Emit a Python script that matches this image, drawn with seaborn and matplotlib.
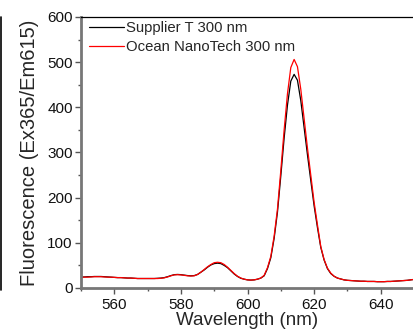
import numpy as np
import pandas as pd
import seaborn as sns
import matplotlib.pyplot as plt
from matplotlib.lines import Line2D

# wavelength grid, 1 nm steps
wavelength = list(range(550, 651))

ocean = [
    24, 24, 24, 24.5, 25, 25, 25, 24.5, 24, 24,            # 550-559
    23.5, 23, 23, 22.5, 22, 22, 21.5, 21, 21, 21,          # 560-569
    21, 21, 21, 21, 21.5, 22.5, 24.5, 27, 29, 29.5,        # 570-579
    29, 28, 27, 26.5, 27, 30, 35, 41, 47, 52,              # 580-589
    56, 57, 56, 52, 46, 39, 32, 26, 22, 19.5,              # 590-599
    18, 17.5, 18, 19.5, 22, 28, 45, 70, 115, 175,          # 600-609
    260, 350, 430, 488, 506, 490, 440, 375, 310, 250,      # 610-619
    190, 140, 92, 63, 44, 33, 26, 22, 20, 18,              # 620-629
    17, 16.5, 16, 15.5, 15, 15, 14.5, 14.5, 14.5, 14,      # 630-639
    14, 14, 14.5, 14.5, 15, 15.5, 16, 16.5, 17, 18,        # 640-649
    19,                                                    # 650
]

supplier = [
    24, 24.5, 25, 25, 25.5, 25.5, 25.5, 25, 24.5, 24,      # 550-559
    23.5, 23, 23, 22.5, 22, 22, 21.5, 21, 21, 21,          # 560-569
    21, 21, 21, 21.5, 22, 23, 25, 27.5, 29.5, 30,          # 570-579
    29.5, 28.5, 27.5, 27, 27.5, 30, 35, 40, 46, 51,        # 580-589
    54, 55, 54, 50, 45, 38, 31, 25.5, 21.5, 19.5,          # 590-599
    18, 17.5, 18, 19.5, 22, 27, 43, 67, 110, 168,          # 600-609
    248, 332, 405, 458, 473, 460, 415, 355, 295, 238,      # 610-619
    182, 134, 90, 62, 43, 32, 26, 22, 20, 18,              # 620-629
    17, 16.5, 16, 15.5, 15, 15, 14.5, 14.5, 14.5, 14,      # 630-639
    14, 14, 14.5, 14.5, 15, 15.5, 16, 16.5, 17, 18,        # 640-649
    19,                                                    # 650
]

series_names = ["Supplier T 300 nm", "Ocean NanoTech 300 nm"]
series_colors = ["black", "red"]

df = pd.concat([
    pd.DataFrame({"Wavelength": wavelength, "Fluorescence": supplier, "Sample": series_names[0]}),
    pd.DataFrame({"Wavelength": wavelength, "Fluorescence": ocean, "Sample": series_names[1]}),
])

sns.set_theme(style="ticks")
plt.rcParams['font.family'] = ['Liberation Sans', 'DejaVu Sans']

fig = plt.figure(figsize=(4.14, 3.35), dpi=100)
ax = fig.add_axes([0.1957, 0.1403, 0.8043, 0.809])

sns.lineplot(data=df, x="Wavelength", y="Fluorescence", hue="Sample",
             hue_order=series_names, palette=series_colors,
             linewidth=0.9, ax=ax, estimator=None, sort=False)

ax.set_xlim(550, 650)
ax.set_ylim(0, 600)
ax.set_xticks([560, 580, 600, 620, 640])
ax.set_xticks(np.arange(550, 651, 10), minor=True)
ax.set_yticks(np.arange(0, 601, 100))
ax.set_yticks(np.arange(0, 601, 50), minor=True)

ax.set_xlabel("Wavelength (nm)", fontsize=13.5, labelpad=0)
ax.set_ylabel("Fluorescence (Ex365/Em615)", fontsize=14.5, labelpad=6)
ax.tick_params(axis='both', which='major', direction='out', length=4, width=1,
               color='#555555', labelsize=11, pad=2, labelcolor='#111111')
ax.tick_params(axis='x', which='major', pad=3.5)
ax.tick_params(axis='both', which='minor', direction='out', length=2.5, width=1,
               color='#555555')

for side in ['left', 'bottom']:
    ax.spines[side].set_color('#777777')
    ax.spines[side].set_linewidth(2)
ax.spines['top'].set_color('black')
ax.spines['top'].set_linewidth(0.9)
ax.spines['right'].set_visible(False)

leg = ax.legend(loc='upper left', frameon=False, fontsize=10.7,
                handlelength=2.3, handletextpad=0.15, labelspacing=0.3,
                borderpad=0.3, borderaxespad=0.0, bbox_to_anchor=(0.012, 1.0))
for h in leg.get_lines():
    h.set_linewidth(0.9)

# edge of the neighbouring panel on the left
fig.add_artist(Line2D([0.003, 0.003], [0.135, 0.95], transform=fig.transFigure,
                      color='black', linewidth=1.2))

fig.savefig("out.png", dpi=100)
